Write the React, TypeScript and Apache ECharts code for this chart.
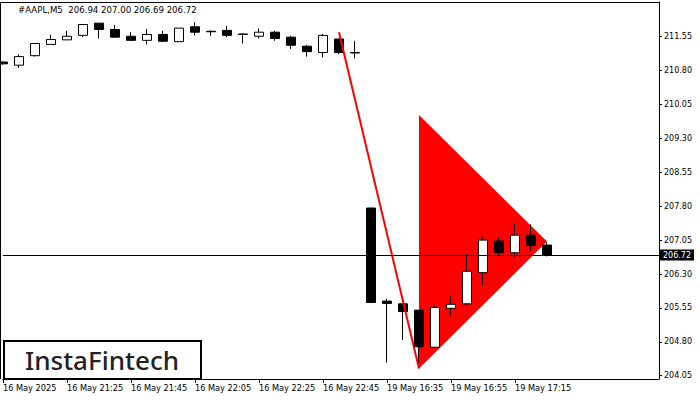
import React, { useEffect, useRef } from "react";
import * as echarts from "echarts";

// time slots (M5 bars), last 7 are empty future slots
const times = [
  "16 May 21:05", "16 May 21:10", "16 May 21:15", "16 May 21:20", "16 May 21:25",
  "16 May 21:30", "16 May 21:35", "16 May 21:40", "16 May 21:45", "16 May 21:50",
  "16 May 21:55", "16 May 22:00", "16 May 22:05", "16 May 22:10", "16 May 22:15",
  "16 May 22:20", "16 May 22:25", "16 May 22:30", "16 May 22:35", "16 May 22:40",
  "16 May 22:45", "16 May 22:50", "16 May 22:55",
  "19 May 16:30", "19 May 16:35", "19 May 16:40", "19 May 16:45", "19 May 16:50",
  "19 May 16:55", "19 May 17:00", "19 May 17:05", "19 May 17:10", "19 May 17:15",
  "19 May 17:20", "19 May 17:25",
  "19 May 17:30", "19 May 17:35", "19 May 17:40", "19 May 17:45", "19 May 17:50",
  "19 May 17:55", "19 May 18:00",
];
const lastBarIndex = 34;
const firstLabel = "16 May 2025";

const opens = [
  210.99, 210.92, 211.13, 211.38, 211.48, 211.58, 211.85, 211.71, 211.56, 211.47,
  211.60, 211.44, 211.77, 211.67, 211.69, 211.61, 211.56, 211.65, 211.54, 211.34,
  211.20, 211.50, 211.20,
  207.76, 205.70, 205.64, 205.50, 204.68, 205.54, 205.64, 206.33, 207.03, 206.77,
  207.16, 206.94,
];
const closes = [
  210.95, 211.11, 211.40, 211.49, 211.56, 211.82, 211.71, 211.54, 211.47, 211.60,
  211.45, 211.74, 211.65, 211.66, 211.58, 211.60, 211.65, 211.51, 211.36, 211.22,
  211.58, 211.20, 211.19,
  205.67, 205.65, 205.47, 204.69, 205.56, 205.63, 206.36, 207.05, 206.77, 207.16,
  206.93, 206.72,
];
const lows = [
  210.93, 210.86, 211.11, 211.38, 211.48, 211.54, 211.51, 211.54, 211.47, 211.38,
  211.43, 211.44, 211.58, 211.57, 211.54, 211.40, 211.51, 211.46, 211.28, 211.11,
  211.09, 211.16, 211.07,
  205.67, 204.34, 204.84, 204.25, 204.68, 205.37, 205.61, 206.06, 206.70, 206.68,
  206.81, 206.69,
];
const highs = [
  211.00, 211.16, 211.40, 211.59, 211.68, 211.82, 211.85, 211.81, 211.65, 211.72,
  211.68, 211.74, 211.87, 211.69, 211.79, 211.63, 211.73, 211.68, 211.57, 211.37,
  211.61, 211.50, 211.46,
  207.76, 205.75, 205.64, 205.50, 205.61, 205.81, 206.74, 207.13, 207.11, 207.42,
  207.40, 207.00,
];

const yTicks = [204.05, 204.8, 205.55, 206.3, 207.05, 207.8, 208.55, 209.3, 210.05, 210.8, 211.55];
const lastPrice = 206.72;
const titleText = "#AAPL,M5  206.94 207.00 206.69 206.72";

// pattern drawing: flagpole line and pennant triangle (category index, price)
const poleLine = [
  [21, 211.65],
  [26, 204.21],
];
const pennant = [
  [26, 209.82],
  [26, 204.21],
  [34, 207.02],
];

const FONT = "DejaVu Sans";

export default function App() {
  const ref = useRef<HTMLDivElement>(null);
  useEffect(() => {
    if (!ref.current) return;
    const chart = echarts.init(ref.current, null, { renderer: "svg" });
    const candleData = opens.map((o, i) => [o, closes[i], lows[i], highs[i]]);
    chart.setOption({
      animation: false,
      backgroundColor: "#fff",
      title: {
        text: titleText,
        left: 18,
        top: 5,
        padding: 0,
        textStyle: { fontSize: 8.6, fontFamily: FONT, color: "#000", fontWeight: "normal" },
      },
      grid: { left: 3, right: 41, top: 2, bottom: 21, containLabel: false },
      xAxis: {
        type: "category",
        data: times,
        boundaryGap: false,
        axisLine: { show: true, lineStyle: { color: "#000", width: 1 } },
        axisTick: {
          show: true,
          length: 4,
          lineStyle: { color: "#000" },
          interval: (i: number) => i % 4 === 0 && i <= lastBarIndex,
        },
        axisLabel: {
          interval: (i: number) => i % 4 === 0 && i <= lastBarIndex,
          formatter: (v: string, i: number) => (i === 0 ? firstLabel : v),
          align: "left",
          margin: 5,
          fontSize: 8.2,
          fontFamily: FONT,
          color: "#000",
        },
        splitLine: { show: false },
      },
      yAxis: {
        type: "value",
        position: "right",
        min: 203.977,
        max: 212.318,
        scale: true,
        axisLine: { show: true, lineStyle: { color: "#000", width: 1 } },
        axisTick: { show: true, length: 3, customValues: yTicks, lineStyle: { color: "#000" } },
        axisLabel: {
          customValues: yTicks,
          formatter: (v: number) => v.toFixed(2),
          margin: 5,
          fontSize: 8,
          fontFamily: FONT,
          color: "#000",
        },
        splitLine: { show: false },
      },
      series: [
        {
          type: "custom",
          z: 1,
          data: pennant,
          renderItem: (params: any, api: any) => {
            if (params.dataIndex !== 0) return null;
            const pts = pennant.map((p) => api.coord(p));
            return {
              type: "polygon",
              shape: { points: pts },
              style: { fill: "#ff0000", stroke: "none" },
            };
          },
        },
        {
          type: "candlestick",
          z: 2,
          clip: false,
          barWidth: 10,
          data: candleData,
          itemStyle: {
            color: "#ffffff",
            color0: "#000000",
            borderColor: "#000000",
            borderColor0: "#000000",
            borderColorDoji: "#000000",
            borderWidth: 1,
          },
          markLine: {
            silent: true,
            symbol: ["none", "none"],
            lineStyle: { color: "#000", width: 1, type: "solid" },
            label: {
              show: true,
              position: "end",
              distance: 1,
              formatter: lastPrice.toFixed(2),
              backgroundColor: "#000",
              color: "#fff",
              padding: [2, 3, 1, 3],
              fontSize: 8,
              fontFamily: FONT,
            },
            data: [{ yAxis: lastPrice }],
          },
        },
        {
          type: "line",
          z: 3,
          data: poleLine,
          symbol: "none",
          lineStyle: { color: "#ff0000", width: 2 },
        },
      ],
      graphic: [
        {
          type: "line",
          silent: true,
          z: 5,
          shape: { x1: 0.5, y1: 2.5, x2: 0.5, y2: 379 },
          style: { stroke: "#000", lineWidth: 1 },
        },
        {
          type: "line",
          silent: true,
          z: 5,
          shape: { x1: 0, y1: 2.5, x2: 659, y2: 2.5 },
          style: { stroke: "#000", lineWidth: 1 },
        },
        {
          type: "rect",
          z: 10,
          shape: { x: 4, y: 341, width: 197, height: 38 },
          style: { fill: "#fff", stroke: "#000", lineWidth: 2 },
        },
        {
          type: "text",
          z: 11,
          x: 102,
          y: 360,
          style: {
            text: "InstaFintech",
            fill: "#222",
            font: "500 26px 'Noto Sans'",
            align: "center",
            verticalAlign: "middle",
          },
        },
      ],
    });
    return () => chart.dispose();
  }, []);
  return (
    <div
      ref={ref}
      style={{ position: "absolute", left: 0, top: 0, width: 700, height: 400 }}
    />
  );
}
